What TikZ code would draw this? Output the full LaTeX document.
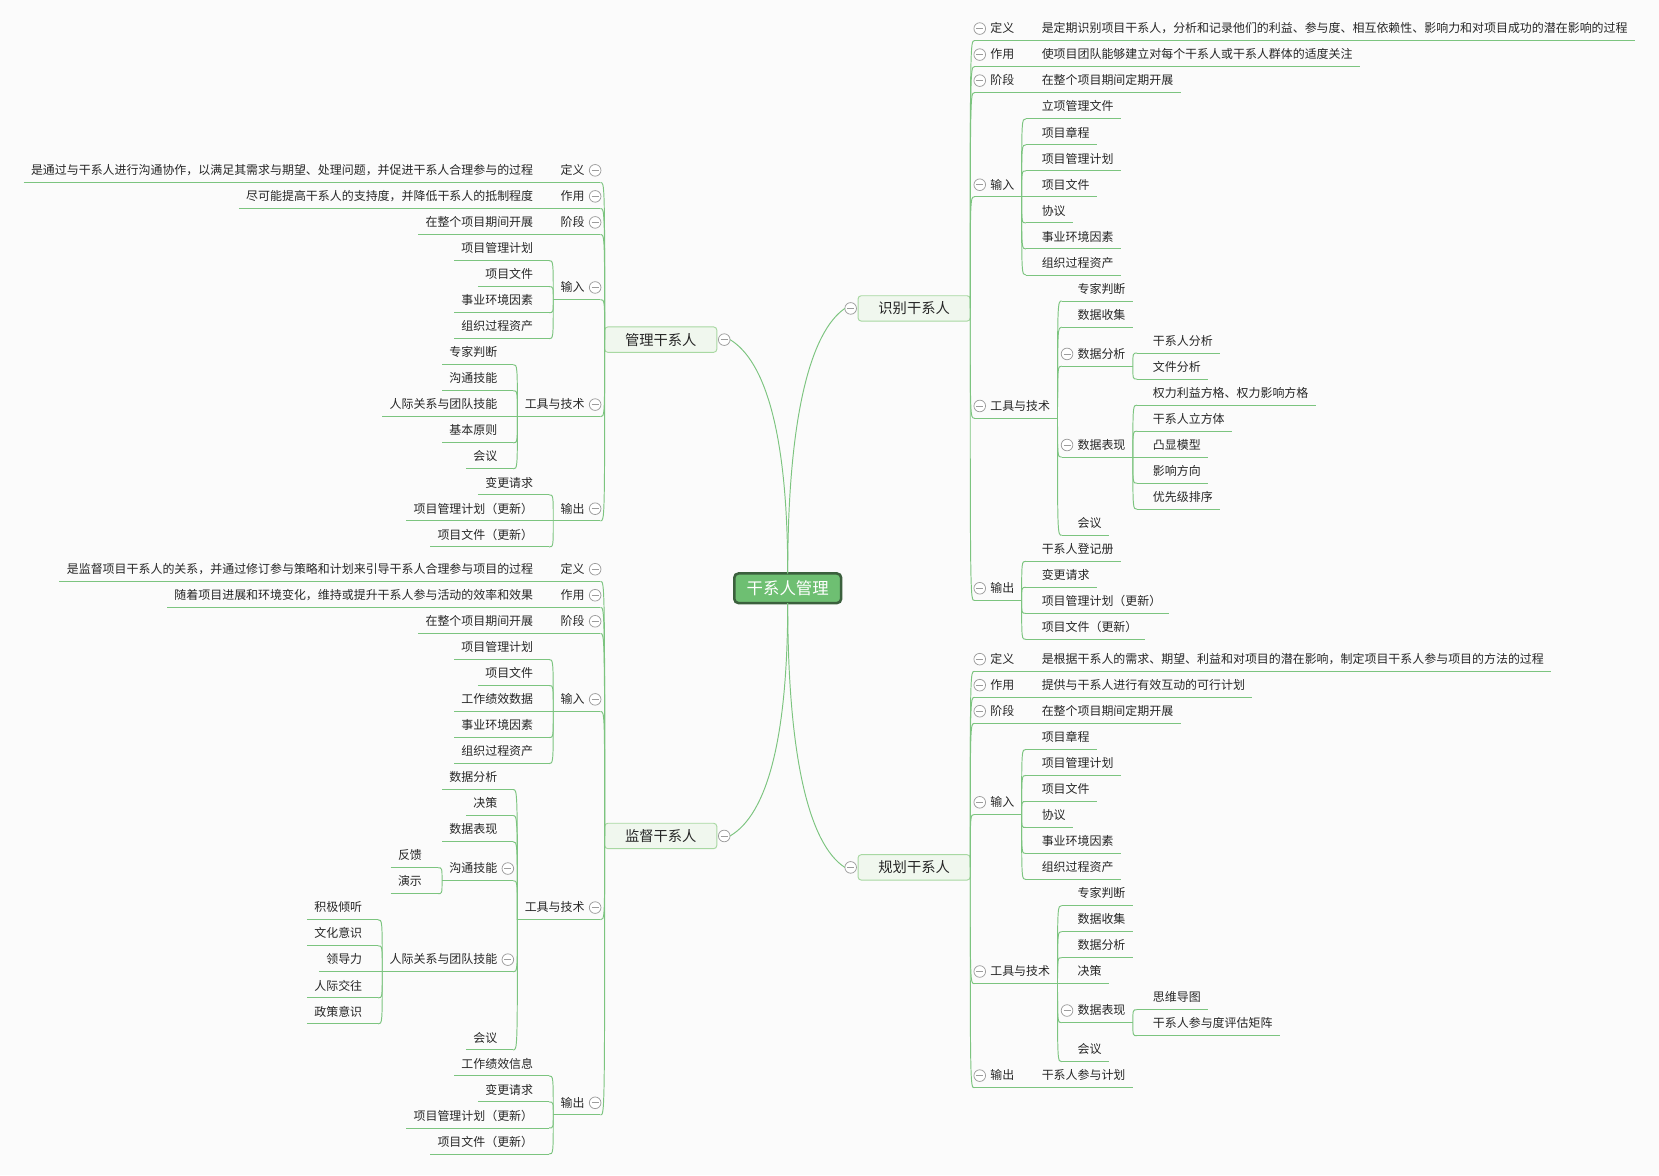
\documentclass[tikz,border=0pt]{standalone}
\usepackage{fontspec}
\setmainfont{Noto Sans CJK SC}
\usetikzlibrary{calc}
\definecolor{lng}{HTML}{7CC47F}
\definecolor{txt}{HTML}{262626}
\definecolor{btng}{HTML}{9C9C9C}
\definecolor{bgc}{HTML}{FBFBFB}
\definecolor{lonefill}{HTML}{F0F7EE}
\definecolor{lonedraw}{HTML}{A8D8A2}
\definecolor{cfill}{HTML}{6EBF72}
\definecolor{cdraw}{HTML}{3B603D}
\tikzset{
 ln/.style={draw=lng, line width=0.9pt},
 tx/.style={inner xsep=0pt, inner ysep=5pt, text height=10.6pt, text depth=2.4pt, outer sep=0pt, text=txt, font=\fontsize{11.3pt}{14pt}\selectfont},
 btn/.style={circle, draw=btng, fill=white, line width=0.7pt, minimum size=11pt, inner sep=0pt, outer sep=0pt,
   path picture={\draw[btng,line width=0.7pt] ([xshift=-3.3pt]path picture bounding box.center) -- ([xshift=3.3pt]path picture bounding box.center);}},
 lvone/.style={rounded corners=3pt, draw=lonedraw, fill=lonefill, line width=0.9pt, minimum width=106pt, minimum height=24pt, inner sep=0pt, outer sep=0pt, text=txt, font=\fontsize{13.5pt}{16pt}\selectfont},
 rootbox/.style={rounded corners=4pt, draw=cdraw, fill=cfill, line width=2.4pt, minimum width=101pt, minimum height=28pt, inner sep=0pt, outer sep=0pt, text=white, font=\fontsize{15.5pt}{18pt}\selectfont}
}
\newcommand\RN[5]{%
  \node[tx,anchor=west,xshift=4pt] (#1) at (#2.east |- 0,#4) {\hspace*{15pt}#5\hspace*{7pt}};
  \draw[ln] (#1.south west) -- (#1.south east);
  \draw[ln] (#2.#3) .. controls (#2.#3 |- #1.south west) .. (#1.south west);}
\newcommand\LN[5]{%
  \node[tx,anchor=east,xshift=-4pt] (#1) at (#2.west |- 0,#4) {\hspace*{7pt}#5\hspace*{15pt}};
  \draw[ln] (#1.south west) -- (#1.south east);
  \draw[ln] (#2.#3) .. controls (#2.#3 |- #1.south east) .. (#1.south east);}
\newcommand\RB[1]{\node[btn] (b#1) at ([xshift=5pt]#1.west) {};}
\newcommand\LB[1]{\node[btn] (b#1) at ([xshift=-5pt]#1.east) {};}
\begin{document}
\begin{tikzpicture}[x=1pt,y=-1pt]
\fill[bgc] (0,0) rectangle (1568,1111);
\useasboundingbox (0,0) rectangle (1568,1111);
% central and main branches
\node[rootbox] (M) at (744.5,556) {干系人管理};
\node[lvone] (A) at (864,291.5) {识别干系人};
\node[lvone] (B) at (864,819.8) {规划干系人};
\node[lvone] (C) at (624.5,321) {管理干系人};
\node[lvone] (D) at (624.5,790.1) {监督干系人};
\node[btn] (bA) at ([xshift=-7pt]A.west) {};
\node[btn] (bB) at ([xshift=-7pt]B.west) {};
\node[btn] (bC) at ([xshift=7pt]C.east) {};
\node[btn] (bD) at ([xshift=7pt]D.east) {};
\draw[ln] (M.north) .. controls +(0,-150) and +(-32,22) .. (bA.west);
\draw[ln] (M.north) .. controls +(0,-133) and +(33,20) .. (bC.east);
\draw[ln] (M.south) .. controls +(0,125) and +(36,-21) .. (bD.east);
\draw[ln] (M.south) .. controls +(0,145) and +(-34,-22) .. (bB.west);
% ---- A: 识别干系人
\RN{A1}{A}{east}{27}{定义}
\RN{A1a}{A1}{south east}{27}{是定期识别项目干系人，分析和记录他们的利益、参与度、相互依赖性、影响力和对项目成功的潜在影响的过程}
\RN{A2}{A}{east}{51.6}{作用}
\RN{A2a}{A2}{south east}{51.6}{使项目团队能够建立对每个干系人或干系人群体的适度关注}
\RN{A3}{A}{east}{76.2}{阶段}
\RN{A3a}{A3}{south east}{76.2}{在整个项目期间定期开展}
\RN{A4}{A}{east}{174.6}{输入}
\RN{A4a}{A4}{south east}{100.8}{立项管理文件}
\RN{A4b}{A4}{south east}{125.4}{项目章程}
\RN{A4c}{A4}{south east}{150}{项目管理计划}
\RN{A4d}{A4}{south east}{174.6}{项目文件}
\RN{A4e}{A4}{south east}{199.2}{协议}
\RN{A4f}{A4}{south east}{223.8}{事业环境因素}
\RN{A4g}{A4}{south east}{248.4}{组织过程资产}
\RN{A5}{A}{east}{383.7}{工具与技术}
\RN{A5a}{A5}{south east}{273}{专家判断}
\RN{A5b}{A5}{south east}{297.6}{数据收集}
\RN{A5c}{A5}{south east}{334.5}{数据分析}
\RN{A5c1}{A5c}{south east}{322.2}{干系人分析}
\RN{A5c2}{A5c}{south east}{346.8}{文件分析}
\RN{A5d}{A5}{south east}{420.6}{数据表现}
\RN{A5d1}{A5d}{south east}{371.4}{权力利益方格、权力影响方格}
\RN{A5d2}{A5d}{south east}{396}{干系人立方体}
\RN{A5d3}{A5d}{south east}{420.6}{凸显模型}
\RN{A5d4}{A5d}{south east}{445.2}{影响方向}
\RN{A5d5}{A5d}{south east}{469.8}{优先级排序}
\RN{A5e}{A5}{south east}{494.4}{会议}
\RN{A6}{A}{east}{556}{输出}
\RN{A6a}{A6}{south east}{519}{干系人登记册}
\RN{A6b}{A6}{south east}{543.6}{变更请求}
\RN{A6c}{A6}{south east}{568.2}{项目管理计划（更新）}
\RN{A6d}{A6}{south east}{592.8}{项目文件（更新）}
% ---- B: 规划干系人
\RN{B1}{B}{east}{623}{定义}
\RN{B1a}{B1}{south east}{623}{是根据干系人的需求、期望、利益和对项目的潜在影响，制定项目干系人参与项目的方法的过程}
\RN{B2}{B}{east}{647.6}{作用}
\RN{B2a}{B2}{south east}{647.6}{提供与干系人进行有效互动的可行计划}
\RN{B3}{B}{east}{672.2}{阶段}
\RN{B3a}{B3}{south east}{672.2}{在整个项目期间定期开展}
\RN{B4}{B}{east}{758.3}{输入}
\RN{B4a}{B4}{south east}{696.8}{项目章程}
\RN{B4b}{B4}{south east}{721.4}{项目管理计划}
\RN{B4c}{B4}{south east}{746}{项目文件}
\RN{B4d}{B4}{south east}{770.6}{协议}
\RN{B4e}{B4}{south east}{795.2}{事业环境因素}
\RN{B4f}{B4}{south east}{819.8}{组织过程资产}
\RN{B5}{B}{east}{918.2}{工具与技术}
\RN{B5a}{B5}{south east}{844.4}{专家判断}
\RN{B5b}{B5}{south east}{869}{数据收集}
\RN{B5c}{B5}{south east}{893.6}{数据分析}
\RN{B5d}{B5}{south east}{918.2}{决策}
\RN{B5e}{B5}{south east}{955.1}{数据表现}
\RN{B5e1}{B5e}{south east}{942.8}{思维导图}
\RN{B5e2}{B5e}{south east}{967.4}{干系人参与度评估矩阵}
\RN{B5f}{B5}{south east}{992}{会议}
\RN{B6}{B}{east}{1016.6}{输出}
\RN{B6a}{B6}{south east}{1016.6}{干系人参与计划}
% ---- C: 管理干系人
\LN{C1}{C}{west}{161}{定义}
\LN{C1a}{C1}{south west}{161}{是通过与干系人进行沟通协作，以满足其需求与期望、处理问题，并促进干系人合理参与的过程}
\LN{C2}{C}{west}{185.6}{作用}
\LN{C2a}{C2}{south west}{185.6}{尽可能提高干系人的支持度，并降低干系人的抵制程度}
\LN{C3}{C}{west}{210.2}{阶段}
\LN{C3a}{C3}{south west}{210.2}{在整个项目期间开展}
\LN{C4}{C}{west}{271.7}{输入}
\LN{C4a}{C4}{south west}{234.8}{项目管理计划}
\LN{C4b}{C4}{south west}{259.4}{项目文件}
\LN{C4c}{C4}{south west}{284}{事业环境因素}
\LN{C4d}{C4}{south west}{308.6}{组织过程资产}
\LN{C5}{C}{west}{382.4}{工具与技术}
\LN{C5a}{C5}{south west}{333.2}{专家判断}
\LN{C5b}{C5}{south west}{357.8}{沟通技能}
\LN{C5c}{C5}{south west}{382.4}{人际关系与团队技能}
\LN{C5d}{C5}{south west}{407}{基本原则}
\LN{C5e}{C5}{south west}{431.6}{会议}
\LN{C6}{C}{west}{480.8}{输出}
\LN{C6a}{C6}{south west}{456.2}{变更请求}
\LN{C6b}{C6}{south west}{480.8}{项目管理计划（更新）}
\LN{C6c}{C6}{south west}{505.4}{项目文件（更新）}
% ---- D: 监督干系人
\LN{D1}{D}{west}{538}{定义}
\LN{D1a}{D1}{south west}{538}{是监督项目干系人的关系，并通过修订参与策略和计划来引导干系人合理参与项目的过程}
\LN{D2}{D}{west}{562.6}{作用}
\LN{D2a}{D2}{south west}{562.6}{随着项目进展和环境变化，维持或提升干系人参与活动的效率和效果}
\LN{D3}{D}{west}{587.2}{阶段}
\LN{D3a}{D3}{south west}{587.2}{在整个项目期间开展}
\LN{D4}{D}{west}{661}{输入}
\LN{D4a}{D4}{south west}{611.8}{项目管理计划}
\LN{D4b}{D4}{south west}{636.4}{项目文件}
\LN{D4c}{D4}{south west}{661}{工作绩效数据}
\LN{D4d}{D4}{south west}{685.6}{事业环境因素}
\LN{D4e}{D4}{south west}{710.2}{组织过程资产}
\LN{D5}{D}{west}{857.8}{工具与技术}
\LN{D5a}{D5}{south west}{734.8}{数据分析}
\LN{D5b}{D5}{south west}{759.4}{决策}
\LN{D5c}{D5}{south west}{784}{数据表现}
\LN{D5d}{D5}{south west}{820.9}{沟通技能}
\LN{D5d1}{D5d}{south west}{808.6}{反馈}
\LN{D5d2}{D5d}{south west}{833.2}{演示}
\LN{D5e}{D5}{south west}{907}{人际关系与团队技能}
\LN{D5e1}{D5e}{south west}{857.8}{积极倾听}
\LN{D5e2}{D5e}{south west}{882.4}{文化意识}
\LN{D5e3}{D5e}{south west}{907}{领导力}
\LN{D5e4}{D5e}{south west}{931.6}{人际交往}
\LN{D5e5}{D5e}{south west}{956.2}{政策意识}
\LN{D5f}{D5}{south west}{980.8}{会议}
\LN{D6}{D}{west}{1042.3}{输出}
\LN{D6a}{D6}{south west}{1005.4}{工作绩效信息}
\LN{D6b}{D6}{south west}{1030}{变更请求}
\LN{D6c}{D6}{south west}{1054.6}{项目管理计划（更新）}
\LN{D6d}{D6}{south west}{1079.2}{项目文件（更新）}
% ---- collapse buttons
\RB{A1}\RB{A2}\RB{A3}\RB{A4}\RB{A5}\RB{A6}\RB{A5c}\RB{A5d}
\RB{B1}\RB{B2}\RB{B3}\RB{B4}\RB{B5}\RB{B6}\RB{B5e}
\LB{C1}\LB{C2}\LB{C3}\LB{C4}\LB{C5}\LB{C6}
\LB{D1}\LB{D2}\LB{D3}\LB{D4}\LB{D5}\LB{D6}\LB{D5d}\LB{D5e}
\end{tikzpicture}
\end{document}
